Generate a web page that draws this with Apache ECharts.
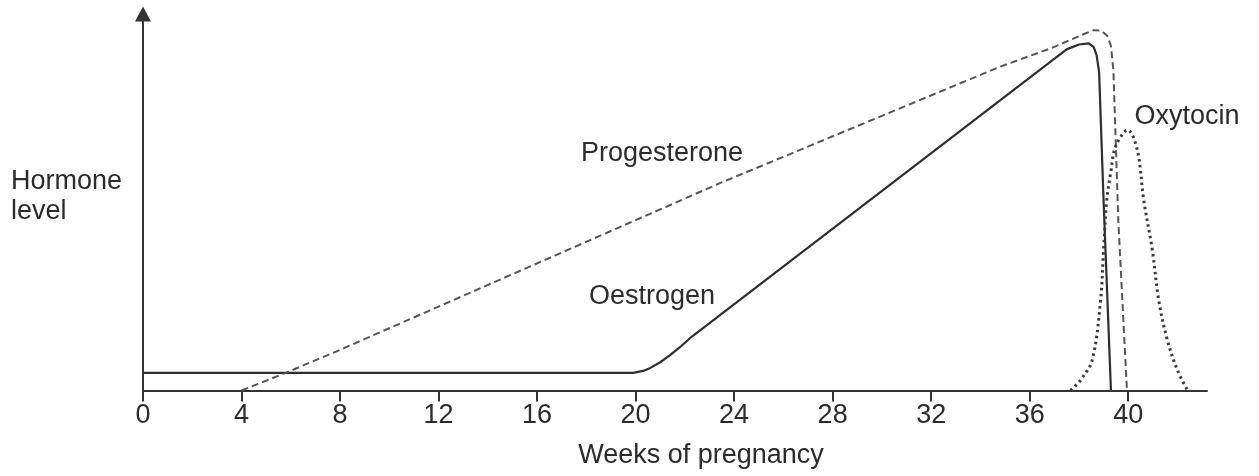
<!DOCTYPE html>
<html>
<head>
<meta charset="utf-8">
<script src="https://cdn.jsdelivr.net/npm/echarts@6/dist/echarts.min.js"></script>
<style>
html,body{margin:0;padding:0;background:#fff;}
#chart{width:1259px;height:476px;}
</style>
</head>
<body>
<div id="chart"></div>
<script>
// ---- data (x: weeks of pregnancy, y: relative hormone level 0-100) ----
const weekTicks = [0, 4, 8, 12, 16, 20, 24, 28, 32, 36, 40];

const oestrogenWeeks = [0, 19.9, 20.3, 20.6, 21.0, 21.4, 21.8, 22.3, 37.5, 38.0, 38.4, 38.6, 38.72, 38.82, 39.0, 39.3];
const oestrogenLevel = [4.7, 4.7, 5.2, 6.0, 7.5, 9.4, 11.5, 14.4, 90.6, 91.9, 92.2, 91.2, 89.0, 84.5, 50.6, 0];

const progesteroneWeeks = [4.0, 5.8, 8.0, 23.4, 34.8, 36.9, 38.1, 38.6, 38.9, 39.15, 39.3, 39.4, 39.6, 39.95];
const progesteroneLevel = [0, 4.7, 10.8, 55.0, 86.0, 91.0, 94.4, 95.7, 95.6, 94.2, 91.5, 85.0, 45.0, 0];

const oxytocinWeeks = [37.66, 38.07, 38.54, 38.88, 39.0, 39.13, 39.29, 39.49, 39.98, 40.37, 40.63, 40.98, 41.24, 41.59, 42.0, 42.41];
const oxytocinLevel = [0, 2.8, 8.1, 24.0, 37.3, 50.6, 57.8, 64.8, 69.2, 63.9, 50.6, 37.3, 24.0, 13.4, 5.4, 0];

const seriesNames = ['Oestrogen', 'Progesterone', 'Oxytocin'];
const yAxisTitle = ['Hormone', 'level'];
const xAxisTitle = 'Weeks of pregnancy';

const pairs = (xs, ys) => xs.map((x, i) => [x, ys[i]]);

const FONT = '"Liberation Sans", Arial, Helvetica, sans-serif';
const FS = 27;
const INK = '#2b2b2b';

const chart = echarts.init(document.getElementById('chart'), null, {renderer: 'canvas'});

chart.setOption({
  animation: false,
  backgroundColor: '#ffffff',
  grid: {left: 143, right: 52, top: 14, bottom: 85.5, containLabel: false},
  xAxis: {
    type: 'value',
    min: 0,
    max: 43.2,
    interval: 4,
    splitLine: {show: false},
    axisLine: {show: true, onZero: false, lineStyle: {color: '#333', width: 2}},
    axisTick: {show: true, inside: false, length: 11, lineStyle: {color: '#333', width: 2}, customValues: weekTicks},
    axisLabel: {show: true, margin: 12, color: INK, fontFamily: FONT, fontSize: FS, customValues: weekTicks,
      formatter: v => String(v)}
  },
  yAxis: {
    type: 'value',
    min: 0,
    max: 100,
    splitLine: {show: false},
    axisTick: {show: false},
    axisLabel: {show: false},
    axisLine: {show: true, onZero: false, symbol: ['none', 'triangle'], symbolSize: [16, 15],
      lineStyle: {color: '#333', width: 2}}
  },
  graphic: [
    {type: 'text', left: 11, top: 168, style: {text: yAxisTitle[0], font: FS + 'px ' + FONT, fill: INK}},
    {type: 'text', left: 11, top: 198, style: {text: yAxisTitle[1], font: FS + 'px ' + FONT, fill: INK}},
    {type: 'text', x: 662, y: 154, style: {text: seriesNames[1], font: FS + 'px ' + FONT, fill: INK, align: 'center', verticalAlign: 'middle'}},
    {type: 'text', x: 652, y: 297, style: {text: seriesNames[0], font: FS + 'px ' + FONT, fill: INK, align: 'center', verticalAlign: 'middle'}},
    {type: 'text', x: 1187, y: 117, style: {text: seriesNames[2], font: FS + 'px ' + FONT, fill: INK, align: 'center', verticalAlign: 'middle'}},
    {type: 'text', x: 701, y: 456, style: {text: xAxisTitle, font: FS + 'px ' + FONT, fill: INK, align: 'center', verticalAlign: 'middle'}}
  ],
  series: [
    {
      name: seriesNames[0], type: 'line', data: pairs(oestrogenWeeks, oestrogenLevel),
      showSymbol: false, symbol: 'none', clip: false, smooth: false,
      lineStyle: {color: '#2e2e2e', width: 2.2, type: 'solid'}
    },
    {
      name: seriesNames[1], type: 'line', data: pairs(progesteroneWeeks, progesteroneLevel),
      showSymbol: false, symbol: 'none', clip: false, smooth: false,
      lineStyle: {color: '#555', width: 2, type: [7, 4]}
    },
    {
      name: seriesNames[2], type: 'line', data: pairs(oxytocinWeeks, oxytocinLevel),
      showSymbol: false, symbol: 'none', clip: false, smooth: 0.35,
      lineStyle: {color: '#3a3a3a', width: 3, type: [2.5, 3.5]}
    }
  ]
});
</script>
</body>
</html>
